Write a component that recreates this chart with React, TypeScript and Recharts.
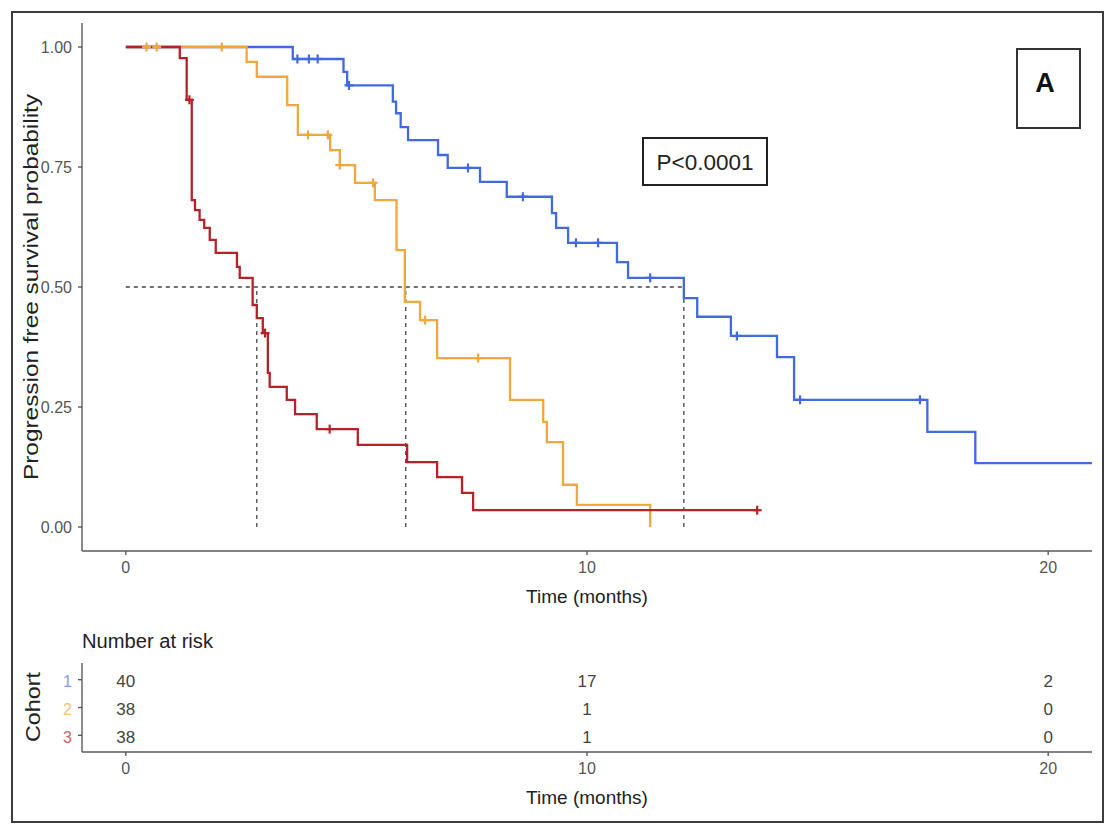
import React from 'react'
import {
  ComposedChart,
  Line,
  Scatter,
  XAxis,
  YAxis,
  ReferenceLine,
} from 'recharts'

const FONT = '"Liberation Sans", Arial, sans-serif'

// Kaplan-Meier estimates per cohort (time in months, survival probability)
const cohort1Time = [0, 3.62, 4.72, 4.8, 5.79, 5.86, 5.96, 6.12, 6.77, 6.98, 7.68, 8.26, 9.24, 9.33, 9.59, 10.65, 10.89, 12.1, 12.39, 13.12, 14.12, 14.49, 17.38, 18.42, 20.95]
const cohort1Surv = [1, 0.975, 0.948, 0.92, 0.886, 0.862, 0.833, 0.806, 0.775, 0.748, 0.719, 0.688, 0.654, 0.623, 0.592, 0.552, 0.519, 0.477, 0.438, 0.398, 0.354, 0.265, 0.198, 0.133, 0.133]

const cohort2Time = [0, 2.62, 2.84, 3.5, 3.73, 4.43, 4.64, 4.97, 5.4, 5.87, 6.05, 6.38, 6.75, 8.33, 9.05, 9.13, 9.48, 9.78, 11.37]
const cohort2Surv = [1, 0.969, 0.938, 0.879, 0.817, 0.785, 0.754, 0.717, 0.681, 0.577, 0.469, 0.431, 0.352, 0.265, 0.219, 0.177, 0.088, 0.046, 0]

const cohort3Time = [0, 1.17, 1.32, 1.43, 1.5, 1.6, 1.7, 1.82, 1.95, 2.41, 2.47, 2.75, 2.84, 2.97, 3.08, 3.12, 3.49, 3.67, 4.14, 5.03, 6.1, 6.75, 7.29, 7.53, 13.69]
const cohort3Surv = [1, 0.977, 0.89, 0.681, 0.66, 0.64, 0.623, 0.598, 0.571, 0.542, 0.519, 0.4625, 0.435, 0.404, 0.321, 0.292, 0.265, 0.235, 0.204, 0.171, 0.135, 0.104, 0.071, 0.035, 0.035]

// censored observations
const cens1Time = [3.72, 3.97, 4.16, 4.84, 7.42, 8.61, 9.76, 10.24, 11.37, 13.25, 14.62, 17.22]
const cens1Surv = [0.975, 0.975, 0.975, 0.92, 0.748, 0.688, 0.592, 0.592, 0.519, 0.398, 0.265, 0.265]
const cens2Time = [0.45, 0.67, 2.08, 3.95, 4.38, 4.64, 5.36, 6.49, 7.64]
const cens2Surv = [1, 1, 1, 0.817, 0.817, 0.754, 0.717, 0.431, 0.352]
const cens3Time = [1.38, 3.02, 4.42, 13.69]
const cens3Surv = [0.89, 0.404, 0.204, 0.035]

const medians = [2.84, 6.07, 12.1]

const cohortLabels = ['1', '2', '3']
const cohortColors = ['#4169e1', '#efa73e', '#b52228']
const labelColors = ['#7f9ce8', '#f2bf7c', '#cf5f67']

const riskTimes = [0, 10, 20]
const atRisk1 = [40, 17, 2]
const atRisk2 = [38, 1, 0]
const atRisk3 = [38, 1, 0]

const timeTicks = [0, 10, 20]
const survTicks = [0, 0.25, 0.5, 0.75, 1]

const toPoints = (ts: number[], ss: number[]) => ts.map((t, i) => ({ t, s: ss[i] }))

const curves = [
  toPoints(cohort1Time, cohort1Surv),
  toPoints(cohort2Time, cohort2Surv),
  toPoints(cohort3Time, cohort3Surv),
]
const censored = [
  toPoints(cens1Time, cens1Surv),
  toPoints(cens2Time, cens2Surv),
  toPoints(cens3Time, cens3Surv),
]
const riskRows = [atRisk1, atRisk2, atRisk3].map((counts, r) =>
  riskTimes.map((t, i) => ({ t, row: r + 1, n: counts[i] }))
)

const tickStyle = { fill: '#555', fontSize: 16, fontFamily: FONT }
const axisStyle = { stroke: '#5a5a5a', strokeWidth: 1.4 }

const plusShape = (color: string) => (props: any) => {
  const { cx, cy } = props
  return (
    <g stroke={color} strokeWidth={2.2}>
      <line x1={cx - 4.5} y1={cy} x2={cx + 4.5} y2={cy} />
      <line x1={cx} y1={cy - 4.5} x2={cx} y2={cy + 4.5} />
    </g>
  )
}

const countShape = (props: any) => (
  <text
    x={props.cx}
    y={props.cy + 2}
    textAnchor="middle"
    dominantBaseline="central"
    fontSize={17}
    fill="#444"
    fontFamily={FONT}
  >
    {props.payload.n}
  </text>
)

const cohortTick = (props: any) => {
  const v = props.payload.value
  return (
    <text
      x={props.x}
      y={props.y + 2}
      textAnchor="end"
      dominantBaseline="central"
      fontSize={16}
      fill={labelColors[v - 1]}
      fontFamily={FONT}
    >
      {cohortLabels[v - 1]}
    </text>
  )
}

const timeLabel = {
  value: 'Time (months)',
  position: 'insideBottom' as const,
  offset: 0,
  fontSize: 19,
  fill: '#222',
  fontFamily: FONT,
}

export default function App() {
  return (
    <div style={{ position: 'absolute', left: 0, top: 0, width: 1114, height: 832, background: '#fff', fontFamily: FONT }}>
      <div style={{ position: 'absolute', left: 11, top: 11, width: 1093, height: 812, boxSizing: 'border-box', border: '2px solid #3c3c3c' }} />

      <div style={{ position: 'absolute', left: 0, top: 0 }}>
        <ComposedChart width={1114} height={610} margin={{ top: 23, right: 22, bottom: 7, left: 22 }}>
          <XAxis
            type="number"
            dataKey="t"
            domain={[-0.95, 20.95]}
            ticks={timeTicks}
            allowDataOverflow
            height={52}
            tick={tickStyle}
            tickSize={4}
            tickMargin={7}
            axisLine={axisStyle}
            tickLine={axisStyle}
            label={timeLabel}
          />
          <YAxis
            type="number"
            domain={[-0.05, 1.05]}
            ticks={survTicks}
            allowDataOverflow
            width={60}
            tick={tickStyle}
            tickSize={4}
            tickMargin={6}
            axisLine={axisStyle}
            tickLine={axisStyle}
            tickFormatter={(v: number) => v.toFixed(2)}
          />
          <ReferenceLine
            segment={[{ x: 0, y: 0.5 }, { x: medians[2], y: 0.5 }]}
            stroke="#444"
            strokeWidth={1.3}
            strokeDasharray="4 4"
          />
          {medians.map((m) => (
            <ReferenceLine
              key={m}
              segment={[{ x: m, y: 0 }, { x: m, y: 0.5 }]}
              stroke="#444"
              strokeWidth={1.3}
              strokeDasharray="4 4"
            />
          ))}
          {curves.map((data, i) => (
            <Line
              key={'c' + i}
              data={data}
              dataKey="s"
              type="stepAfter"
              stroke={cohortColors[i]}
              strokeWidth={2.3}
              dot={false}
              isAnimationActive={false}
            />
          ))}
          {censored.map((data, i) => (
            <Scatter
              key={'x' + i}
              data={data}
              dataKey="s"
              shape={plusShape(cohortColors[i])}
              isAnimationActive={false}
            />
          ))}
        </ComposedChart>
      </div>

      <div style={{ position: 'absolute', left: 0, top: 610 }}>
        <ComposedChart width={1114} height={222} margin={{ top: 53, right: 22, bottom: 28, left: 22 }}>
          <XAxis
            type="number"
            dataKey="t"
            domain={[-0.95, 20.95]}
            ticks={timeTicks}
            allowDataOverflow
            height={52}
            tick={tickStyle}
            tickSize={4}
            tickMargin={7}
            axisLine={axisStyle}
            tickLine={axisStyle}
            label={timeLabel}
          />
          <YAxis
            type="number"
            dataKey="row"
            domain={[0.4, 3.6]}
            ticks={[1, 2, 3]}
            reversed
            width={60}
            tick={cohortTick}
            tickSize={4}
            tickMargin={6}
            axisLine={axisStyle}
            tickLine={axisStyle}
          />
          {riskRows.map((data, i) => (
            <Scatter
              key={'r' + i}
              data={data}
              dataKey="row"
              shape={countShape}
              isAnimationActive={false}
            />
          ))}
        </ComposedChart>
      </div>

      <svg width={1114} height={832} style={{ position: 'absolute', left: 0, top: 0, pointerEvents: 'none' }}>
        <text
          transform="translate(38 287) rotate(-90)"
          textAnchor="middle"
          fontSize={20}
          fill="#222"
          textLength={386}
          lengthAdjust="spacingAndGlyphs"
        >
          Progression free survival probability
        </text>
        <text x={82} y={648} fontSize={20} fill="#222" textLength={131} lengthAdjust="spacingAndGlyphs">
          Number at risk
        </text>
        <text
          transform="translate(40 707) rotate(-90)"
          textAnchor="middle"
          fontSize={20}
          fill="#222"
          textLength={70}
          lengthAdjust="spacingAndGlyphs"
        >
          Cohort
        </text>
        <rect x={643} y={138} width={124} height={47} fill="#fff" stroke="#222" strokeWidth={2} />
        <text x={705} y={170} textAnchor="middle" fontSize={22} fill="#222" textLength={97} lengthAdjust="spacingAndGlyphs">
          P&lt;0.0001
        </text>
        <rect x={1017} y={49} width={63} height={79} fill="#fff" stroke="#333" strokeWidth={2} />
        <text x={1045} y={92} textAnchor="middle" fontSize={27} fontWeight="bold" fill="#111">
          A
        </text>
      </svg>
    </div>
  )
}
